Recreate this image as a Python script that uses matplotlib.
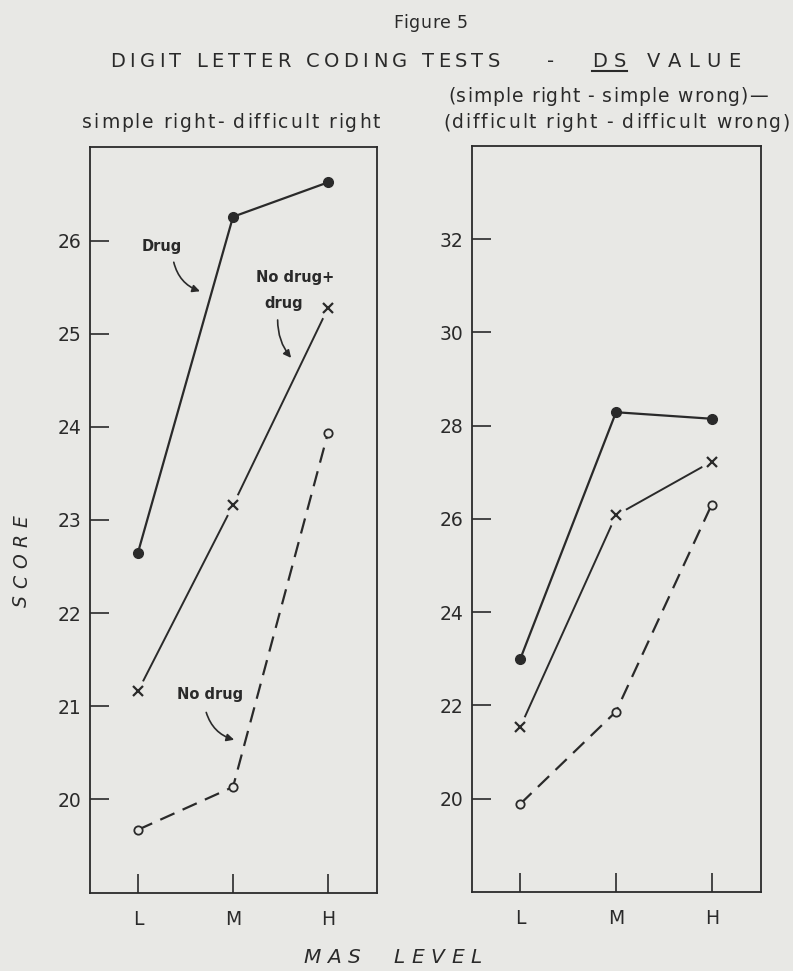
import matplotlib
matplotlib.use('Agg')
import matplotlib.pyplot as plt
from matplotlib.lines import Line2D
from matplotlib.font_manager import FontProperties, findfont, get_font

levels = ['L', 'M', 'H']

# simple right - difficult right
left_drug = [22.65, 26.26, 26.63]
left_both = [21.16, 23.16, 25.28]
left_nodrug = [19.67, 20.13, 23.94]
left_ticks = [20, 21, 22, 23, 24, 25, 26]

# (simple right - simple wrong) - (difficult right - difficult wrong)
right_drug = [23.0, 28.29, 28.15]
right_both = [21.54, 26.08, 27.23]
right_nodrug = [19.89, 21.87, 26.31]
right_ticks = [20, 22, 24, 26, 28, 30, 32]

bg = '#e8e8e5'
ink = '#2a2a2a'
W, H = 793.0, 971.0
DPI = 100


def fx(px):
    return px / W


def fy(py):
    return 1 - py / H


def advances(s, size, style='normal'):
    # advance width of each letter, in pixels
    font = get_font(findfont(FontProperties(style=style)))
    font.set_size(size, DPI)
    return [font.load_char(ord(ch)).linearHoriAdvance / 65536.0 for ch in s]


def fit_text(s, x0, x1, base, size, style='normal'):
    # spread the letters of s between x0 and x1 (pixels), like the lettering guide
    adv = advances(s, size, style)
    track = (x1 - x0 - sum(adv)) / max(len(s) - 1, 1)
    pen = x0
    out = []
    for ch, a in zip(s, adv):
        if ch != ' ':
            fig.text(fx(pen), fy(base), ch, fontsize=size, style=style,
                     color=ink, ha='left', va='baseline')
        out.append((pen, a))
        pen += a + track
    return out


def fit_vtext(s, ybot, ytop, base, size, style='normal'):
    adv = advances(s, size, style)
    track = (ybot - ytop - sum(adv)) / max(len(s) - 1, 1)
    pen = ybot
    for ch, a in zip(s, adv):
        fig.text(fx(base), fy(pen), ch, fontsize=size, style=style,
                 color=ink, rotation=90, ha='right', va='bottom')
        pen -= a + track


def draw_panel(ax, drug, both, nodrug, ticks, ylim):
    x = list(range(len(levels)))
    ax.set_facecolor(bg)
    ax.plot(x, drug, color=ink, lw=1.6, marker='o', ms=7, zorder=3)
    ax.plot(x, both, color=ink, lw=1.4, zorder=2)
    # blank patch round the x so the line stops short of it
    ax.plot(x, both, ls='none', marker='o', ms=16, mfc=bg, mec='none', zorder=3)
    ax.plot(x, both, ls='none', marker='x', ms=7.5, mew=1.6, color=ink, zorder=4)
    ax.plot(x, nodrug, color=ink, lw=1.6, dashes=(7, 4), marker='o', ms=6,
            mfc=bg, mec=ink, mew=1.3, zorder=3)
    ax.set_xlim(-0.505, 2.515)
    ax.set_ylim(*ylim)
    ax.set_xticks(x)
    ax.set_xticklabels(levels)
    ax.set_yticks(ticks)
    ax.tick_params(direction='in', length=14, width=1.2, colors=ink,
                   labelsize=13.5, pad=6)
    ax.tick_params(axis='x', pad=12)
    for s in ax.spines.values():
        s.set_color(ink)
        s.set_linewidth(1.3)


fig = plt.figure(figsize=(7.93, 9.71), dpi=DPI, facecolor=bg)
ax1 = fig.add_axes([fx(90), fy(893), 287 / W, 746 / H])
ax2 = fig.add_axes([fx(472), fy(892), 289 / W, 746 / H])

draw_panel(ax1, left_drug, left_both, left_nodrug, left_ticks, (18.99, 27.01))
draw_panel(ax2, right_drug, right_both, right_nodrug, right_ticks, (18.0, 34.0))

# labels on the left panel
arr = dict(arrowstyle='-|>', color=ink, lw=1.2, mutation_scale=11)
lab = dict(fontsize=10.5, fontweight='bold', color=ink, ha='center', va='center')
ax1.text(0.25, 25.94, 'Drug', **lab)
ax1.annotate('', xy=(0.68, 25.45), xytext=(0.37, 25.8),
             arrowprops=dict(arr, connectionstyle='arc3,rad=0.3'))
ax1.text(1.65, 25.61, 'No drug+', **lab)
ax1.text(1.53, 25.33, 'drug', **lab)
ax1.annotate('', xy=(1.63, 24.72), xytext=(1.47, 25.18),
             arrowprops=dict(arr, connectionstyle='arc3,rad=0.2'))
ax1.text(0.76, 21.12, 'No drug', **lab)
ax1.annotate('', xy=(1.04, 20.63), xytext=(0.71, 20.96),
             arrowprops=dict(arr, connectionstyle='arc3,rad=0.3'))

# titles
fit_text('Figure 5', 393, 468, 28, 12.5)
fit_text('DIGIT LETTER CODING TESTS', 110, 500, 67, 14)
fit_text('-', 547, 560, 67, 14)
ds = fit_text('DS VALUE', 592, 740, 67, 14)
fig.add_artist(Line2D([fx(ds[0][0]), fx(ds[1][0] + ds[1][1])], [fy(71.5), fy(71.5)],
                      color=ink, lw=1.5))

fit_text('simple right- difficult right', 82, 380, 128, 13.5)
fit_text('(simple right - simple wrong)—', 448, 768, 102, 13.5)
fit_text('(difficult right - difficult wrong)', 443, 790, 128, 13.5)

fit_vtext('SCORE', 607, 515, 31, 13.5, style='italic')
fit_text('MAS  LEVEL', 303, 482, 963, 14.5, style='italic')

fig.savefig('out.png', dpi=DPI, facecolor=bg)
